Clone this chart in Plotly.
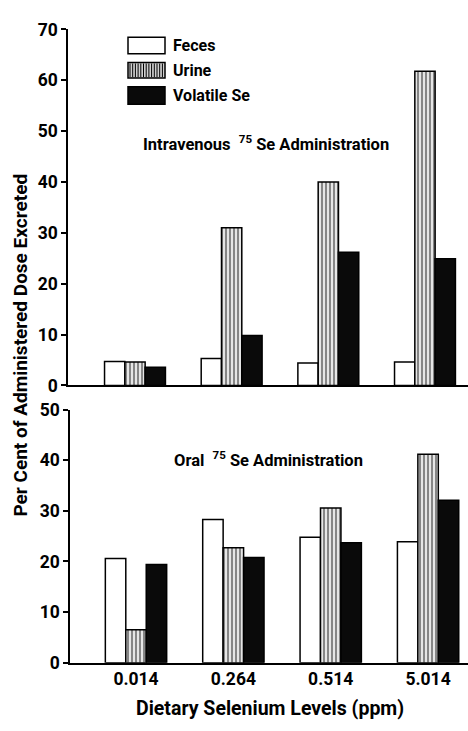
import plotly.graph_objects as go

categories = ["0.014", "0.264", "0.514", "5.014"]
series_names = ["Feces", "Urine", "Volatile Se"]

iv_feces = [4.7, 5.3, 4.4, 4.6]
iv_urine = [4.6, 31.0, 40.0, 61.8]
iv_volatile = [3.6, 9.8, 26.2, 24.9]

oral_feces = [20.6, 28.3, 24.8, 23.9]
oral_urine = [6.5, 22.7, 30.6, 41.2]
oral_volatile = [19.4, 20.8, 23.7, 32.1]

iv_ticks = [0, 10, 20, 30, 40, 50, 60, 70]
oral_ticks = [0, 10, 20, 30, 40, 50]

W, H = 468, 731
FONT = "Roboto, Liberation Sans, sans-serif"

def px_x(p):
    return p / W

def px_y(p):
    return 1 - p / H

fig = go.Figure()

styles = [
    dict(color="white", pattern=None),
    dict(color="#d8d8d8", pattern=dict(shape="|", size=4, solidity=0.45, fgcolor="#111", bgcolor="#e6e6e6")),
    dict(color="#0a0a0a", pattern=None),
]

for data, xa, ya in [((iv_feces, iv_urine, iv_volatile), "x", "y"),
                     ((oral_feces, oral_urine, oral_volatile), "x2", "y2")]:
    for name, vals, st in zip(series_names, data, styles):
        marker = dict(color=st["color"], line=dict(color="black", width=1.5))
        if st["pattern"]:
            marker["pattern"] = st["pattern"]
        fig.add_trace(go.Bar(x=categories, y=vals, name=name, marker=marker,
                             xaxis=xa, yaxis=ya, showlegend=False))

axis_font = dict(family=FONT, size=17.5, color="black", weight="bold")

fig.update_layout(
    width=W, height=H,
    margin=dict(l=0, r=0, t=0, b=0),
    paper_bgcolor="white", plot_bgcolor="white",
    barmode="group", bargap=0.37, bargroupgap=0,
    font=dict(family=FONT, color="black"),
    xaxis=dict(domain=[px_x(68), 1], anchor="y", type="category",
               range=[-0.693, 3.445], showticklabels=False, ticks="",
               showline=True, linecolor="black", linewidth=1.5, showgrid=False, zeroline=False),
    yaxis=dict(domain=[px_y(386), px_y(20)], anchor="x", range=[0, 70],
               tickvals=iv_ticks, ticks="outside", ticklen=5, tickwidth=1.5, tickcolor="black",
               showline=True, linecolor="black", linewidth=1.5, showgrid=False, zeroline=False,
               tickfont=axis_font),
    xaxis2=dict(domain=[px_x(70), 1], anchor="y2", type="category",
                range=[-0.678, 3.41], ticks="", tickfont=axis_font,
                showline=True, linecolor="black", linewidth=1.5, showgrid=False, zeroline=False),
    yaxis2=dict(domain=[px_y(671), px_y(411)], anchor="x2", range=[0, 50],
                tickvals=oral_ticks, ticks="outside", ticklen=5, tickwidth=1.5, tickcolor="black",
                showline=True, linecolor="black", linewidth=1.5, showgrid=False, zeroline=False,
                tickfont=axis_font),
)

# Legend (drawn manually to match wide swatches)
sw_x0, sw_x1 = 128, 165
legend_rows = [(28, 45), (54, 70), (79, 97)]
fills = ["white", "#cfcfcf", "#0a0a0a"]
for (y0, y1), fill, name in zip(legend_rows, fills, series_names):
    fig.add_shape(type="rect", xref="paper", yref="paper",
                  x0=px_x(sw_x0), x1=px_x(sw_x1), y0=px_y(y1), y1=px_y(y0),
                  fillcolor=fill, line=dict(color="black", width=1.5))
    fig.add_annotation(xref="paper", yref="paper", x=px_x(171), y=px_y((y0 + y1) / 2),
                       text=name, showarrow=False, xanchor="left", yanchor="middle",
                       font=dict(family=FONT, size=16, color="black", weight="bold"))
# stripes on urine swatch
for i in range(13):
    xx = sw_x0 + 2 + i * 2.7
    fig.add_shape(type="line", xref="paper", yref="paper",
                  x0=px_x(xx), x1=px_x(xx), y0=px_y(69), y1=px_y(55),
                  line=dict(color="black", width=1))

fig.add_annotation(xref="paper", yref="paper", x=px_x(266), y=px_y(137),
                   xanchor="center", yanchor="middle",
                   text="Intravenous  <sup>75</sup> Se Administration", showarrow=False,
                   font=dict(family=FONT, size=16.5, color="black", weight="bold"))
fig.add_annotation(xref="paper", yref="paper", x=px_x(268), y=px_y(462),
                   xanchor="center", yanchor="middle",
                   text="Oral  <sup>75</sup> Se Administration", showarrow=False,
                   font=dict(family=FONT, size=16.5, color="black", weight="bold"))

fig.add_annotation(xref="paper", yref="paper", x=px_x(270), y=px_y(718),
                   xanchor="center", yanchor="middle",
                   text="Dietary Selenium Levels (ppm)", showarrow=False,
                   font=dict(family=FONT, size=19.5, color="black", weight="bold"))
fig.add_annotation(xref="paper", yref="paper", x=px_x(21), y=px_y(345),
                   xanchor="center", yanchor="middle",
                   text="Per Cent of Administered Dose Excreted", showarrow=False, textangle=-90,
                   font=dict(family=FONT, size=19, color="black", weight="bold"))

fig.write_html("out.html")
